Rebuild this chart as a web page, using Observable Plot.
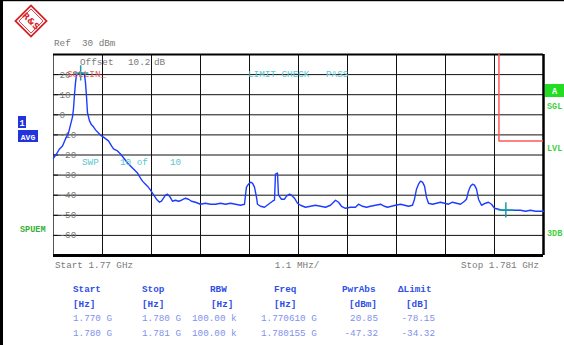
<!DOCTYPE html>
<html>
<head>
<meta charset="utf-8">
<script src="https://cdn.jsdelivr.net/npm/d3@7"></script>
<script src="https://cdn.jsdelivr.net/npm/@observablehq/plot@0.6"></script>
<style>
  html, body { margin: 0; padding: 0; background: #fff; }
  #chart { width: 564px; height: 345px; position: relative; overflow: hidden; }
  svg { display: block; }
</style>
</head>
<body>
<div id="chart"></div>
<script>
// ---- Data (frequency in MHz, level in dBm) ----
const traceFreq = [1770.000,1770.067,1770.135,1770.202,1770.269,1770.337,1770.382,1770.427,1770.449,1770.471,1770.494,1770.516,1770.561,1770.606,1770.651,1770.696,1770.718,1770.741,1770.763,1770.808,1770.853,1770.898,1770.943,1771.010,1771.078,1771.145,1771.235,1771.302,1771.347,1771.437,1771.504,1771.594,1771.661,1771.773,1771.886,1771.953,1771.998,1772.065,1772.110,1772.178,1772.222,1772.267,1772.312,1772.380,1772.424,1772.469,1772.514,1772.559,1772.604,1772.671,1772.739,1772.806,1772.873,1772.963,1773.031,1773.098,1773.188,1773.300,1773.412,1773.524,1773.637,1773.749,1773.861,1773.973,1774.086,1774.198,1774.288,1774.310,1774.332,1774.377,1774.422,1774.467,1774.512,1774.557,1774.579,1774.647,1774.737,1774.826,1774.916,1774.961,1774.983,1775.028,1775.051,1775.118,1775.186,1775.230,1775.298,1775.343,1775.410,1775.477,1775.545,1775.657,1775.769,1775.881,1775.994,1776.106,1776.218,1776.286,1776.331,1776.398,1776.465,1776.555,1776.667,1776.779,1776.847,1776.937,1777.027,1777.116,1777.229,1777.341,1777.431,1777.498,1777.588,1777.678,1777.790,1777.880,1777.969,1778.059,1778.104,1778.149,1778.194,1778.239,1778.284,1778.329,1778.373,1778.418,1778.508,1778.598,1778.687,1778.777,1778.867,1778.957,1779.047,1779.137,1779.226,1779.271,1779.316,1779.361,1779.406,1779.451,1779.496,1779.541,1779.608,1779.698,1779.765,1779.833,1779.900,1779.990,1780.080,1780.170,1780.259,1780.371,1780.484,1780.596,1780.708,1780.820,1780.933,1781.000];
const traceLevel = [-21.5,-19.5,-17,-15.5,-12,-9,-5,-1,3,10,16,20,20.5,21,20.5,20,16,9,1,-3,-5,-6,-7.5,-9,-10.5,-11.5,-13,-15.5,-17,-18,-19.5,-22,-24,-26.5,-29,-31.5,-33,-34.5,-35.5,-37.5,-39,-40.5,-42,-43.5,-43,-41.5,-40,-39.5,-40.5,-43,-42.5,-43,-42.5,-41.5,-42,-43,-43.5,-44.5,-44,-44.5,-44.5,-44,-44.5,-44,-44.5,-45,-44.5,-40,-36,-34.5,-33.5,-34,-36,-41,-44.5,-45.5,-46,-44.5,-43,-42.5,-29.5,-29,-40,-42,-42,-40.5,-39.5,-40,-41.5,-44,-45,-46,-45.5,-45,-45.5,-46,-45,-43.5,-42.5,-43.5,-45.5,-46.5,-46,-46,-44.5,-45.5,-46,-45.5,-45,-44.5,-45.5,-46,-45.5,-45,-44.5,-45,-45.5,-45,-42,-37,-34.5,-33,-33.5,-35.5,-41,-44,-44.5,-44,-43.5,-44,-44.5,-43.5,-44,-44.5,-43,-42,-38,-35.5,-34.5,-35,-37,-42,-45,-44,-43.5,-44.5,-46.5,-47,-47.5,-47.5,-47.5,-47.5,-47.5,-48,-47.5,-48,-48,-48];

const limitFreq = [1770, 1780, 1780, 1781];
const limitLevel = [99, 99, -13, -13];

const markerFreq = [1770.610, 1780.155];
const markerLevel = [20.85, -47.32];

const xGrid = [1771.1, 1772.2, 1773.3, 1774.4, 1775.5, 1776.6, 1777.7, 1778.8, 1779.9];
const yGrid = [20, 10, 0, -10, -20, -30, -40, -50, -60];
const yTickLabels = ["20", "10", "0", "-10", "-20", "-30", "-40", "-50", "-60"];

const tableHeaders = ["Start", "Stop", "RBW", "Freq", "PwrAbs", "\u0394Limit"];
const tableUnits = ["[Hz]", "[Hz]", "[Hz]", "[Hz]", "[dBm]", "[dB]"];
const row1 = ["1.770 G", "1.780 G", "100.00 k", "1.770610 G", "20.85", "-78.15"];
const row2 = ["1.780 G", "1.781 G", "100.00 k", "1.780155 G", "-47.32", "-34.32"];

// ---- Build tables for Plot ----
const trace = traceFreq.map((f, i) => ({f, level: traceLevel[i]}));
const limit = limitFreq.map((f, i) => ({f, level: limitLevel[i]}));
const markers = markerFreq.map((f, i) => ({f, level: markerLevel[i]}));
const yTicks = yGrid.map((v, i) => ({v, label: yTickLabels[i]}));

const mono = "'Liberation Mono', 'DejaVu Sans Mono', monospace";
const FS = 9.3;

const chart = Plot.plot({
  width: 564,
  height: 345,
  marginLeft: 53,
  marginRight: 21,
  marginTop: 54,
  marginBottom: 90,
  x: {domain: [1770, 1781], axis: null},
  y: {domain: [-70, 30], axis: null},
  style: {background: "transparent", overflow: "visible"},
  marks: [
    Plot.ruleX(xGrid, {stroke: "#111", strokeWidth: 1}),
    Plot.ruleY(yGrid, {stroke: "#111", strokeWidth: 1}),
    Plot.ruleX([1770], {stroke: "#555", strokeWidth: 1}),
    Plot.ruleX([1781], {stroke: "#000", strokeWidth: 2.5}),
    Plot.ruleY([30], {stroke: "#000", strokeWidth: 2}),
    Plot.ruleY([-70], {stroke: "#000", strokeWidth: 3}),
    Plot.ruleY(yTicks, {y: "v", x1: 1770, x2: 1770.11, stroke: "#111"}),
    Plot.text(yTicks, {x: 1770, y: "v", text: "label", dx: 6, textAnchor: "start", fill: "#7a7a7a", fontSize: FS, fontFamily: mono}),
    Plot.line(limit, {x: "f", y: "level", stroke: "#ff5a5a", strokeWidth: 1.5, clip: true}),
    Plot.line(trace, {x: "f", y: "level", stroke: "#1d3cff", strokeWidth: 1.4}),
    Plot.dot(markers, {x: "f", y: "level", symbol: "plus", stroke: "#1a9fa6", strokeWidth: 1.5, r: 5})
  ]
});
document.getElementById("chart").appendChild(chart);

// ---- Annotations (text) ----
const svg = d3.select(chart);
function txt(x, y, s, fill, opts = {}) {
  svg.append("text")
    .attr("x", x).attr("y", y)
    .attr("fill", fill)
    .attr("font-family", mono)
    .attr("font-size", opts.size || FS)
    .attr("font-weight", opts.bold ? "bold" : "normal")
    .attr("text-anchor", opts.anchor || "start")
    .attr("xml:space", "preserve")
    .style("white-space", "pre")
    .text(s);
}

// page frame
svg.append("rect").attr("x", 0).attr("y", 0).attr("width", 3).attr("height", 345).attr("fill", "#000");
svg.append("rect").attr("x", 0).attr("y", 0).attr("width", 564).attr("height", 1.2).attr("fill", "#000");

// logo
const logo = svg.append("g").attr("transform", "translate(31,21) rotate(45)");
logo.append("rect").attr("x", -11).attr("y", -11).attr("width", 22).attr("height", 22)
  .attr("fill", "none").attr("stroke", "#d8232a").attr("stroke-width", 1.8);
logo.append("rect").attr("x", -8.5).attr("y", -8.5).attr("width", 17).attr("height", 17)
  .attr("fill", "none").attr("stroke", "#d8232a").attr("stroke-width", 0.8);
logo.append("text").attr("x", 0).attr("y", 3).attr("text-anchor", "middle")
  .attr("font-family", "DejaVu Sans").attr("font-size", 8.5).attr("font-weight", "bold")
  .attr("fill", "#d8232a").text("R&S");

const gray = "#7a7a7a", cyan = "#5cc6cf", green = "#3fcf3f", red = "#e85a5a";
txt(54, 46, "Ref  30 dBm", gray);
txt(80, 65, "Offset", gray);
txt(128, 65, "10.2", gray);
txt(154, 65, "dB", gray);
txt(67, 77, "SGLLIN_", red);
txt(248, 77, "LIMIT CHECK", cyan);
txt(326, 77, "PASS", cyan);
txt(82, 165, "SWP", cyan);
txt(120, 165, "10 of", cyan);
txt(170, 165, "10", cyan);

// left status boxes
svg.append("rect").attr("x", 18).attr("y", 116).attr("width", 8).attr("height", 12).attr("fill", "#2233dd");
txt(22, 125.5, "1", "#fff", {anchor: "middle", bold: true, size: 8.5});
svg.append("rect").attr("x", 18).attr("y", 130).attr("width", 20).attr("height", 12).attr("fill", "#2233dd");
txt(28, 139.5, "AVG", "#fff", {anchor: "middle", bold: true, size: 8});
txt(20, 232, "SPUEM", "#35b035", {bold: true, size: 8.5});

// right status
svg.append("rect").attr("x", 545).attr("y", 84).attr("width", 19).attr("height", 13).attr("fill", "#22dd22");
txt(554.5, 94, "A", "#fff", {anchor: "middle", bold: true, size: 8.5});
txt(547, 109, "SGL", green, {bold: true, size: 8.5});
txt(547, 151, "LVL", green, {bold: true, size: 8.5});
txt(547, 236, "3DB", green, {bold: true, size: 8.5});

// bottom axis texts
txt(55, 268, "Start 1.77 GHz", gray);
txt(297, 268, "1.1 MHz/", gray, {anchor: "middle"});
txt(539, 268, "Stop 1.781 GHz", gray, {anchor: "end"});

// marker table
const hdrBlue = "#2f4ee6", rowBlue = "#7f91ec";
const colX = [73, 142, 210, 274, 342, 398];
tableHeaders.forEach((s, i) => txt(colX[i], 292, s, hdrBlue, {bold: true}));
const unitX = [73, 142, 211, 274, 349, 406];
tableUnits.forEach((s, i) => txt(unitX[i], 307, s, hdrBlue, {bold: true}));
const rowX = [73, 142, 192, 261];
[row1, row2].forEach((row, r) => {
  const y = 321 + r * 15;
  row.forEach((s, i) => {
    if (i < 4) txt(rowX[i], y, s, rowBlue);
    else txt(i === 4 ? 378 : 435, y, s, rowBlue, {anchor: "end"});
  });
});
</script>
</body>
</html>
